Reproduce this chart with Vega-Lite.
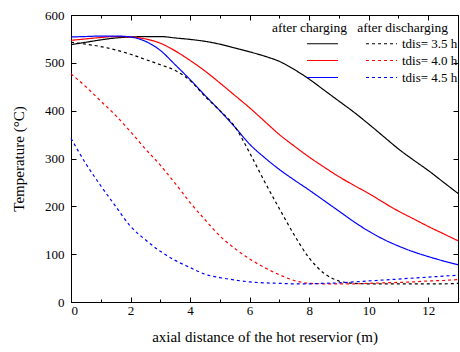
{
  "$schema": "https://vega.github.io/schema/vega-lite/v6.json",
  "width": 387,
  "height": 287,
  "autosize": "none",
  "padding": {"left": 71, "top": 15, "right": 2, "bottom": 50},
  "title": {"text": "after charging\u00a0\u00a0\u00a0after discharging", "anchor": "end", "frame": "group", "orient": "top", "offset": 0, "dx": -10, "dy": 32, "baseline": "middle", "fontSize": 13.5, "fontWeight": "normal", "font": "Liberation Serif", "color": "black"},
  "config": {
    "font": "Liberation Serif",
    "view": {"stroke": "black", "strokeWidth": 1},
    "axis": {"domainColor": "black", "tickColor": "black", "labelColor": "black", "titleColor": "black", "labelFont": "Liberation Serif", "titleFont": "Liberation Serif", "labelFontSize": 13, "titleFontSize": 15, "titleFontWeight": "normal", "grid": false, "tickWidth": 1, "domainWidth": 1}
  },
  "datasets": {
    "curves": [
      {"s":"c3.5","x":0,"T":538},{"s":"c3.5","x":0.5,"T":543},{"s":"c3.5","x":1,"T":548},{"s":"c3.5","x":1.5,"T":552},{"s":"c3.5","x":2,"T":554},{"s":"c3.5","x":2.5,"T":555},{"s":"c3.5","x":3,"T":555},{"s":"c3.5","x":3.5,"T":552},{"s":"c3.5","x":4,"T":549},{"s":"c3.5","x":4.5,"T":545},{"s":"c3.5","x":5,"T":539},{"s":"c3.5","x":5.5,"T":531},{"s":"c3.5","x":6,"T":523},{"s":"c3.5","x":6.5,"T":514},{"s":"c3.5","x":7,"T":503},{"s":"c3.5","x":7.5,"T":486},{"s":"c3.5","x":8,"T":466},{"s":"c3.5","x":8.5,"T":443},{"s":"c3.5","x":9,"T":420},{"s":"c3.5","x":9.5,"T":397},{"s":"c3.5","x":10,"T":372},{"s":"c3.5","x":10.5,"T":346},{"s":"c3.5","x":11,"T":320},{"s":"c3.5","x":11.5,"T":297},{"s":"c3.5","x":12,"T":275},{"s":"c3.5","x":12.5,"T":251},{"s":"c3.5","x":13,"T":227},
      {"s":"c4.0","x":0,"T":547},{"s":"c4.0","x":0.5,"T":550},{"s":"c4.0","x":1,"T":553},{"s":"c4.0","x":1.5,"T":555},{"s":"c4.0","x":2,"T":554},{"s":"c4.0","x":2.5,"T":550},{"s":"c4.0","x":3,"T":541},{"s":"c4.0","x":3.5,"T":525},{"s":"c4.0","x":4,"T":505},{"s":"c4.0","x":4.5,"T":483},{"s":"c4.0","x":5,"T":458},{"s":"c4.0","x":5.5,"T":432},{"s":"c4.0","x":6,"T":406},{"s":"c4.0","x":6.5,"T":378},{"s":"c4.0","x":7,"T":350},{"s":"c4.0","x":7.5,"T":326},{"s":"c4.0","x":8,"T":303},{"s":"c4.0","x":8.5,"T":282},{"s":"c4.0","x":9,"T":262},{"s":"c4.0","x":9.5,"T":244},{"s":"c4.0","x":10,"T":227},{"s":"c4.0","x":10.5,"T":208},{"s":"c4.0","x":11,"T":190},{"s":"c4.0","x":11.5,"T":174},{"s":"c4.0","x":12,"T":158},{"s":"c4.0","x":12.5,"T":143},{"s":"c4.0","x":13,"T":128},
      {"s":"c4.5","x":0,"T":554},{"s":"c4.5","x":0.5,"T":555},{"s":"c4.5","x":1,"T":556},{"s":"c4.5","x":1.5,"T":556},{"s":"c4.5","x":2,"T":554},{"s":"c4.5","x":2.5,"T":545},{"s":"c4.5","x":3,"T":526},{"s":"c4.5","x":3.5,"T":496},{"s":"c4.5","x":4,"T":465},{"s":"c4.5","x":4.5,"T":432},{"s":"c4.5","x":5,"T":400},{"s":"c4.5","x":5.5,"T":366},{"s":"c4.5","x":6,"T":330},{"s":"c4.5","x":6.5,"T":302},{"s":"c4.5","x":7,"T":277},{"s":"c4.5","x":7.5,"T":255},{"s":"c4.5","x":8,"T":234},{"s":"c4.5","x":8.5,"T":212},{"s":"c4.5","x":9,"T":190},{"s":"c4.5","x":9.5,"T":168},{"s":"c4.5","x":10,"T":148},{"s":"c4.5","x":10.5,"T":131},{"s":"c4.5","x":11,"T":117},{"s":"c4.5","x":11.5,"T":105},{"s":"c4.5","x":12,"T":95},{"s":"c4.5","x":12.5,"T":86},{"s":"c4.5","x":13,"T":78},
      {"s":"d3.5","x":0,"T":543},{"s":"d3.5","x":0.5,"T":539},{"s":"d3.5","x":1,"T":534},{"s":"d3.5","x":1.5,"T":527},{"s":"d3.5","x":2,"T":518},{"s":"d3.5","x":2.5,"T":507},{"s":"d3.5","x":3,"T":496},{"s":"d3.5","x":3.5,"T":484},{"s":"d3.5","x":4,"T":463},{"s":"d3.5","x":4.5,"T":430},{"s":"d3.5","x":5,"T":400},{"s":"d3.5","x":5.5,"T":367},{"s":"d3.5","x":6,"T":312},{"s":"d3.5","x":6.5,"T":252},{"s":"d3.5","x":7,"T":195},{"s":"d3.5","x":7.5,"T":140},{"s":"d3.5","x":8,"T":92},{"s":"d3.5","x":8.5,"T":60},{"s":"d3.5","x":9,"T":44},{"s":"d3.5","x":9.5,"T":39},{"s":"d3.5","x":10,"T":38},{"s":"d3.5","x":10.5,"T":38},{"s":"d3.5","x":11,"T":38},{"s":"d3.5","x":11.5,"T":38},{"s":"d3.5","x":12,"T":38},{"s":"d3.5","x":12.5,"T":38},{"s":"d3.5","x":13,"T":39},
      {"s":"d4.0","x":0,"T":477},{"s":"d4.0","x":0.5,"T":450},{"s":"d4.0","x":1,"T":420},{"s":"d4.0","x":1.5,"T":390},{"s":"d4.0","x":2,"T":356},{"s":"d4.0","x":2.5,"T":320},{"s":"d4.0","x":3,"T":286},{"s":"d4.0","x":3.5,"T":248},{"s":"d4.0","x":4,"T":208},{"s":"d4.0","x":4.5,"T":172},{"s":"d4.0","x":5,"T":138},{"s":"d4.0","x":5.5,"T":112},{"s":"d4.0","x":6,"T":90},{"s":"d4.0","x":6.5,"T":72},{"s":"d4.0","x":7,"T":57},{"s":"d4.0","x":7.5,"T":45},{"s":"d4.0","x":8,"T":39},{"s":"d4.0","x":8.5,"T":38},{"s":"d4.0","x":9,"T":38},{"s":"d4.0","x":9.5,"T":38},{"s":"d4.0","x":10,"T":39},{"s":"d4.0","x":10.5,"T":40},{"s":"d4.0","x":11,"T":41},{"s":"d4.0","x":11.5,"T":42},{"s":"d4.0","x":12,"T":44},{"s":"d4.0","x":12.5,"T":45},{"s":"d4.0","x":13,"T":47},
      {"s":"d4.5","x":0,"T":342},{"s":"d4.5","x":0.5,"T":289},{"s":"d4.5","x":1,"T":243},{"s":"d4.5","x":1.5,"T":200},{"s":"d4.5","x":2,"T":158},{"s":"d4.5","x":2.5,"T":130},{"s":"d4.5","x":3,"T":106},{"s":"d4.5","x":3.5,"T":87},{"s":"d4.5","x":4,"T":72},{"s":"d4.5","x":4.5,"T":58},{"s":"d4.5","x":5,"T":51},{"s":"d4.5","x":5.5,"T":46},{"s":"d4.5","x":6,"T":42},{"s":"d4.5","x":6.5,"T":40},{"s":"d4.5","x":7,"T":39},{"s":"d4.5","x":7.5,"T":38},{"s":"d4.5","x":8,"T":38},{"s":"d4.5","x":8.5,"T":39},{"s":"d4.5","x":9,"T":40},{"s":"d4.5","x":9.5,"T":42},{"s":"d4.5","x":10,"T":44},{"s":"d4.5","x":10.5,"T":46},{"s":"d4.5","x":11,"T":48},{"s":"d4.5","x":11.5,"T":50},{"s":"d4.5","x":12,"T":52},{"s":"d4.5","x":12.5,"T":54},{"s":"d4.5","x":13,"T":56}
    ]
  },
  "data": {"name": "curves"},
  "encoding": {
    "color": {"field": "s", "type": "nominal",
      "scale": {"domain": ["c3.5","d3.5","c4.0","d4.0","c4.5","d4.5"], "range": ["#000000","#000000","#ff0000","#ff0000","#0000ff","#0000ff"]},
      "legend": {"orient": "none", "direction": "horizontal", "legendX": 243, "legendY": 20, "columns": 2, "symbolType": "M-2,0H2", "symbolSize": 240, "symbolStrokeWidth": 1.2, "labelOffset": 12, "columnPadding": 20, "rowPadding": 1, "labelFontSize": 13, "labelFont": "Liberation Serif", "labelColor": "black", "labelExpr": "substring(datum.label,0,1) == 'd' ? 'tdis= ' + substring(datum.label,1) + ' h' : ''", "title": null,
        "encode": {"symbols": {"update": {
          "strokeDash": {"signal": "substring(datum.value,0,1) == 'd' ? [3,3] : [1,0]"},
          "strokeOpacity": {"value": 1},
          "opacity": {"value": 1},
          "stroke": {"signal": "indexof(['c3.5','d3.5'], datum.value) >= 0 ? '#000000' : (indexof(['c4.0','d4.0'], datum.value) >= 0 ? '#ff0000' : '#0000ff')"}}}}}},
    "strokeDash": {"field": "s", "type": "nominal",
      "scale": {"domain": ["c3.5","d3.5","c4.0","d4.0","c4.5","d4.5"], "range": [[1,0],[3,3],[1,0],[3,3],[1,0],[3,3]]},
      "legend": null}
  },
  "layer": [
    {
      "transform": [{"filter": "substring(datum.s,0,1) == 'c'"}],
      "mark": {"type": "line", "interpolate": "monotone", "strokeWidth": 1.2},
      "encoding": {
        "x": {"field": "x", "type": "quantitative", "scale": {"domain": [0, 13], "nice": false, "zero": false},
          "axis": {"orient": "bottom", "values": [0,1,2,3,4,5,6,7,8,9,10,11,12,13], "labelExpr": "datum.value % 2 == 0 ? datum.label : ''", "tickSize": {"condition": {"test": "datum.value % 2 == 1", "value": -3}, "value": -5}, "labelPadding": 7, "title": "axial distance of the hot reservior (m)", "titlePadding": 12}},
        "y": {"field": "T", "type": "quantitative", "scale": {"domain": [0, 600], "nice": false},
          "axis": {"orient": "left", "values": [0,100,200,300,400,500,600], "tickSize": -5, "labelPadding": 12, "title": "Temperature (°C)", "titlePadding": 18}}
      }
    },
    {
      "transform": [{"filter": "substring(datum.s,0,1) == 'd'"}],
      "mark": {"type": "line", "interpolate": "monotone", "strokeWidth": 1.2},
      "encoding": {
        "x": {"field": "x", "type": "quantitative",
          "axis": {"orient": "top", "values": [0,1,2,3,4,5,6,7,8,9,10,11,12,13], "labels": false, "title": null, "tickSize": {"condition": {"test": "datum.value % 2 == 1", "value": -3}, "value": -5}}},
        "y": {"field": "T", "type": "quantitative",
          "axis": {"orient": "right", "values": [0,100,200,300,400,500,600], "labels": false, "title": null, "tickSize": -5}}
      }
    }
  ],
  "resolve": {"axis": {"x": "independent", "y": "independent"}}
}
